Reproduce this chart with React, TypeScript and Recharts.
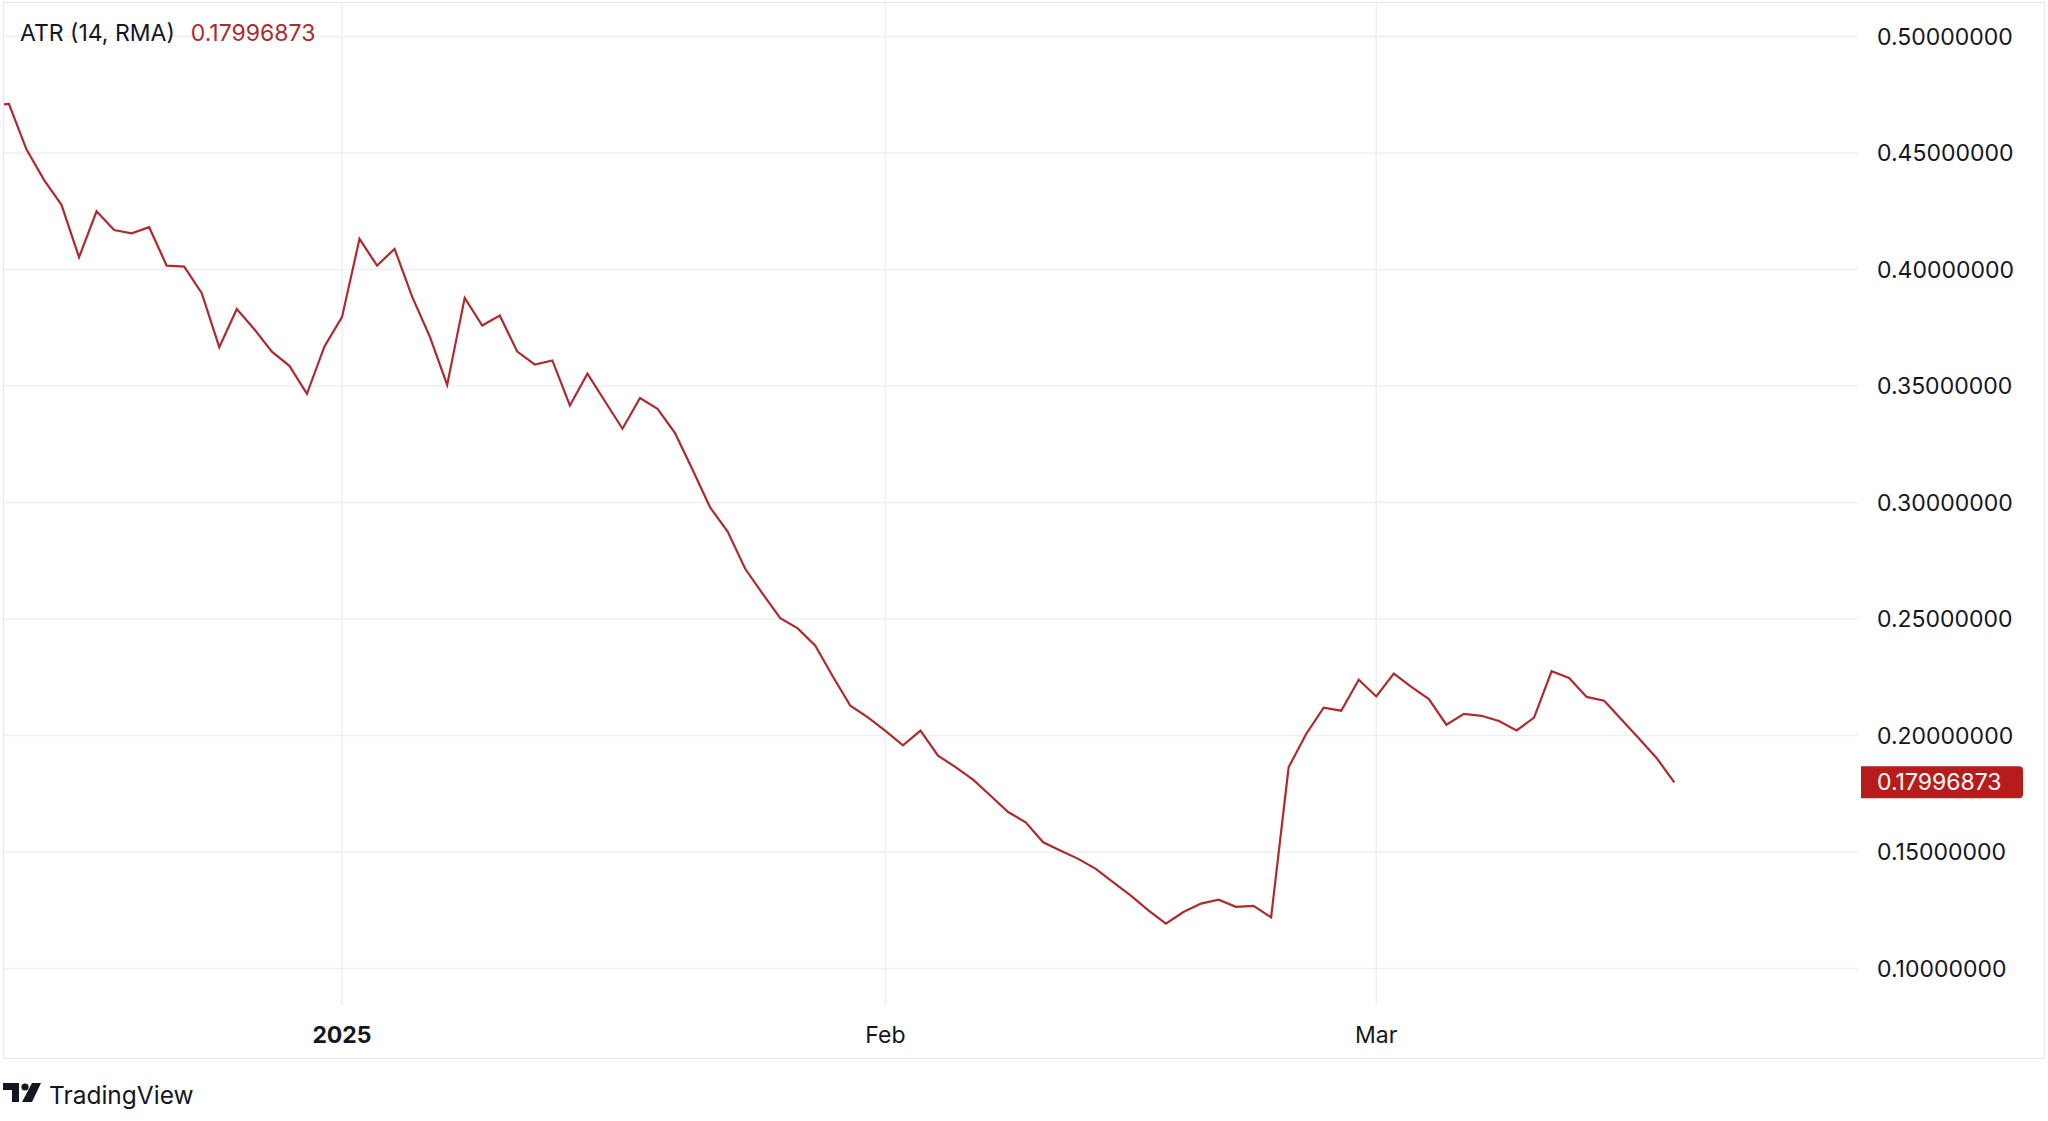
import React from 'react';
import { LineChart, Line, XAxis, YAxis, ReferenceLine } from 'recharts';

// Daily ATR (14, RMA) values, first point is Dec 12 2024 (day -20 relative to Jan 1 2025)
const START_DAY = -20;
const atrValues = [
  0.4705, 0.4711, 0.4516, 0.4385, 0.4278, 0.4053, 0.425, 0.417, 0.4156, 0.4182,
  0.4017, 0.4013, 0.3899, 0.3667, 0.3831, 0.3744, 0.3648, 0.3587, 0.3467, 0.367,
  0.3796, 0.4132, 0.4017, 0.4089, 0.3884, 0.3714, 0.3505, 0.3879, 0.376, 0.3803,
  0.3648, 0.3592, 0.361, 0.3417, 0.3553, 0.3435, 0.3317, 0.3449, 0.3402, 0.3298,
  0.3141, 0.2979, 0.2876, 0.2716, 0.2608, 0.2504, 0.246, 0.2386, 0.2254, 0.2128,
  0.2078, 0.202, 0.1958, 0.2021, 0.1914, 0.1865, 0.1811, 0.1742, 0.1672, 0.1628,
  0.1542, 0.1506, 0.1471, 0.1428, 0.137, 0.1313, 0.125, 0.1193, 0.1243, 0.1279,
  0.1296, 0.1265, 0.1269, 0.122, 0.1864, 0.2007, 0.212, 0.2107, 0.224, 0.2168,
  0.2266, 0.2209, 0.2157, 0.2047, 0.2093, 0.2085, 0.2063, 0.2022, 0.2077, 0.2276,
  0.2247, 0.2166, 0.215, 0.2068, 0.1986, 0.1903, 0.17996873,
];

const timeTicks = [0, 31, 59];
const timeLabels = ['2025', 'Feb', 'Mar'];
const priceTicks = [0.1, 0.15, 0.2, 0.25, 0.3, 0.35, 0.4, 0.45, 0.5];

const LAST = atrValues[atrValues.length - 1];
const data = atrValues.map((v, i) => ({ day: START_DAY + i, atr: v }));

const FONT = 'Inter, "Noto Sans", sans-serif';
const RED = '#ad2a2f';
const TEXT = '#131722';
const GRID = '#efeff1';

const TimeTick = (props: any) => {
  const { x, y, payload } = props;
  const idx = timeTicks.indexOf(payload.value);
  const label = timeLabels[idx] ?? '';
  return (
    <text
      x={x}
      y={y + 30}
      textAnchor="middle"
      dominantBaseline="central"
      fontFamily={FONT}
      fontSize={23}
      fontWeight={idx === 0 ? 700 : 400}
      fill={TEXT}
    >
      {label}
    </text>
  );
};

const PriceTick = (props: any) => {
  const { x, y, payload } = props;
  return (
    <text x={x} y={y} textAnchor="start" dominantBaseline="central" fontFamily={FONT} fontSize={23} fill={TEXT}>
      {Number(payload.value).toFixed(8)}
    </text>
  );
};

const PriceTag = (props: any) => {
  const vb = props.viewBox;
  if (!vb) return null;
  const x = vb.x + vb.width + 3;
  const y = vb.y;
  const w = 162;
  const h = 32;
  const r = 4;
  const top = y - h / 2;
  const d = `M${x},${top} H${x + w - r} Q${x + w},${top} ${x + w},${top + r} V${top + h - r} Q${x + w},${top + h} ${x + w - r},${top + h} H${x} Z`;
  return (
    <g>
      <path d={d} fill="#b71c1c" />
      <text x={x + 16} y={y} dominantBaseline="central" fontFamily={FONT} fontSize={23} fill="#ffffff">
        {LAST.toFixed(8)}
      </text>
    </g>
  );
};

const Logo = () => (
  <svg width={40} height={20} viewBox="0 0 40 20" style={{ position: 'absolute', left: 3, top: 1083 }}>
    <path d="M0,0 H16 V19 H9 V7 H0 Z" fill={TEXT} />
    <circle cx={22} cy={4} r={3.6} fill={TEXT} />
    <path d="M29,0 H38 L29,19 H19 Z" fill={TEXT} />
  </svg>
);

export default function App() {
  return (
    <div style={{ position: 'absolute', left: 0, top: 0, width: 2048, height: 1121, background: '#fff', overflow: 'hidden' }}>
      <div style={{ position: 'absolute', left: 0, top: 0 }}>
        <LineChart width={2048} height={1121} data={data} margin={{ top: 3, right: 0, bottom: 0, left: 4 }}>
          <XAxis
            type="number"
            dataKey="day"
            domain={[-19.28, 86.48]}
            allowDataOverflow
            ticks={timeTicks}
            axisLine={false}
            tickLine={false}
            tickSize={0}
            tickMargin={0}
            height={116}
            tick={<TimeTick />}
            interval={0}
          />
          <YAxis
            orientation="right"
            domain={[0.08438, 0.51442]}
            allowDataOverflow
            ticks={priceTicks}
            axisLine={false}
            tickLine={false}
            tickSize={0}
            tickMargin={19}
            width={190}
            tick={<PriceTick />}
            interval={0}
          />
          {priceTicks.map((t) => (
            <ReferenceLine key={`h${t}`} y={t} stroke={GRID} strokeWidth={1.5} />
          ))}
          {timeTicks.map((t) => (
            <ReferenceLine key={`v${t}`} x={t} stroke={GRID} strokeWidth={1.5} />
          ))}
          <ReferenceLine y={LAST} stroke="none" ifOverflow="visible" label={(p: any) => <PriceTag {...p} />} />
          <Line
            type="linear"
            dataKey="atr"
            stroke={RED}
            strokeWidth={2.2}
            dot={false}
            activeDot={false}
            isAnimationActive={false}
          />
        </LineChart>
      </div>
      <div
        style={{
          position: 'absolute',
          left: 3,
          top: 2,
          width: 2042,
          height: 1057,
          border: '1.5px solid #e6e7ea',
          boxSizing: 'border-box',
          pointerEvents: 'none',
        }}
      />
      <div style={{ position: 'absolute', left: 20, top: 20, fontFamily: FONT, fontSize: 23, lineHeight: '26px', whiteSpace: 'nowrap' }}>
        <span style={{ color: TEXT }}>ATR (14, RMA)</span>
        <span style={{ color: RED, marginLeft: 16 }}>{LAST.toFixed(8)}</span>
      </div>
      <Logo />
      <div style={{ position: 'absolute', left: 49, top: 1080, fontFamily: FONT, fontSize: 24.5, lineHeight: '30px', color: TEXT }}>
        TradingView
      </div>
    </div>
  );
}
